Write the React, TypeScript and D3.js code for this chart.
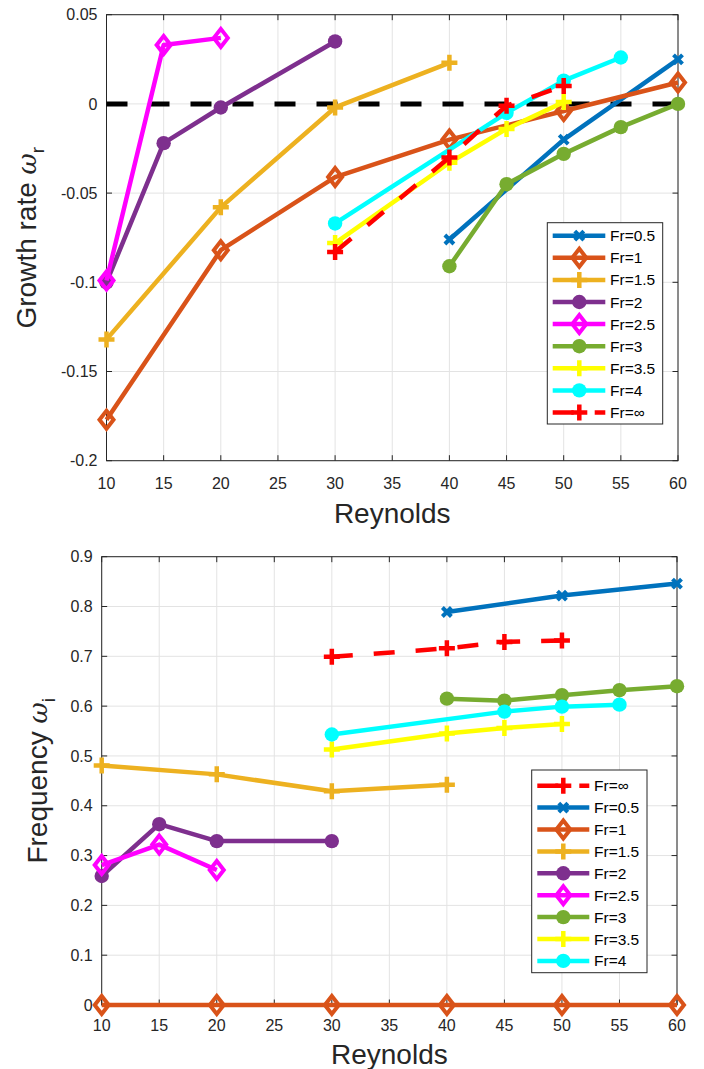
import * as d3 from 'd3';

// Reynolds numbers per series (same in both panels)
const reFr05 = [40, 50, 60];
const reFr1 = [10, 20, 30, 40, 50, 60];
const reFr15 = [10, 20, 30, 40];
const reFr2 = [10, 15, 20, 30];
const reFr25 = [10, 15, 20];
const reFr3 = [40, 45, 50, 55, 60];
const reFr35 = [30, 40, 45, 50];
const reFr4 = [30, 45, 50, 55];
const reFrInf = [30, 40, 45, 50];

// growth rate omega_r
const growthFr05 = [-0.076, -0.02, 0.025];
const growthFr1 = [-0.177, -0.082, -0.041, -0.02, -0.004, 0.012];
const growthFr15 = [-0.132, -0.058, -0.002, 0.023];
const growthFr2 = [-0.1, -0.022, -0.002, 0.035];
const growthFr25 = [-0.099, 0.033, 0.037];
const growthFr3 = [-0.091, -0.045, -0.028, -0.013, 0];
const growthFr35 = [-0.078, -0.033, -0.014, 0.001];
const growthFr4 = [-0.067, -0.005, 0.013, 0.026];
const growthFrInf = [-0.083, -0.03, -0.001, 0.01];

// frequency omega_i
const freqFr05 = [0.789, 0.822, 0.846];
const freqFr1 = [0, 0, 0, 0, 0, 0];
const freqFr15 = [0.481, 0.463, 0.429, 0.442];
const freqFr2 = [0.259, 0.363, 0.329, 0.329];
const freqFr25 = [0.281, 0.322, 0.271];
const freqFr3 = [0.615, 0.611, 0.622, 0.632, 0.64];
const freqFr35 = [0.513, 0.545, 0.556, 0.564];
const freqFr4 = [0.543, 0.589, 0.599, 0.603];
const freqFrInf = [0.699, 0.716, 0.729, 0.732];

const xTicks = [10, 15, 20, 25, 30, 35, 40, 45, 50, 55, 60];
const growthTicks = [-0.2, -0.15, -0.1, -0.05, 0, 0.05];
const freqTicks = [0, 0.1, 0.2, 0.3, 0.4, 0.5, 0.6, 0.7, 0.8, 0.9];

const font = '"Liberation Sans", Arial, Helvetica, sans-serif';
const axisColor = '#262626';

type MarkerType = 'x' | 'diamond' | 'plus' | 'circle';
type Series = { name: string; color: string; marker: MarkerType; dashed?: boolean; re: number[]; vals: number[] };

const mk = (name, color, marker, re, vals, dashed = false): Series => ({ name, color, marker, re, vals, dashed });

const growthSeries: Series[] = [
  mk('Fr=0.5', '#0072BD', 'x', reFr05, growthFr05),
  mk('Fr=1', '#D95319', 'diamond', reFr1, growthFr1),
  mk('Fr=1.5', '#EDB120', 'plus', reFr15, growthFr15),
  mk('Fr=2', '#7E2F8E', 'circle', reFr2, growthFr2),
  mk('Fr=2.5', '#FF00FF', 'diamond', reFr25, growthFr25),
  mk('Fr=3', '#77AC30', 'circle', reFr3, growthFr3),
  mk('Fr=3.5', '#FFFF00', 'plus', reFr35, growthFr35),
  mk('Fr=4', '#00FFFF', 'circle', reFr4, growthFr4),
  mk('Fr=∞', '#FF0000', 'plus', reFrInf, growthFrInf, true),
];

const freqSeries: Series[] = [
  mk('Fr=∞', '#FF0000', 'plus', reFrInf, freqFrInf, true),
  mk('Fr=0.5', '#0072BD', 'x', reFr05, freqFr05),
  mk('Fr=1', '#D95319', 'diamond', reFr1, freqFr1),
  mk('Fr=1.5', '#EDB120', 'plus', reFr15, freqFr15),
  mk('Fr=2', '#7E2F8E', 'circle', reFr2, freqFr2),
  mk('Fr=2.5', '#FF00FF', 'diamond', reFr25, freqFr25),
  mk('Fr=3', '#77AC30', 'circle', reFr3, freqFr3),
  mk('Fr=3.5', '#FFFF00', 'plus', reFr35, freqFr35),
  mk('Fr=4', '#00FFFF', 'circle', reFr4, freqFr4),
];

const LW = 4.5;
const DASH = '21 21';

function Marker({ type, x, y, color }) {
  const t = `translate(${x},${y})`;
  if (type === 'circle') return <circle cx={x} cy={y} r={7.2} fill={color} />;
  if (type === 'diamond')
    return <path transform={t} d="M0,-9L7,0L0,9L-7,0Z" fill="none" stroke={color} strokeWidth={4} strokeLinejoin="miter" />;
  if (type === 'plus') return <path transform={t} d="M-8,0H8M0,-8V8" stroke={color} strokeWidth={4.5} />;
  return <path transform={t} d="M-4.5,-4.5L4.5,4.5M-4.5,4.5L4.5,-4.5" stroke={color} strokeWidth={4} />;
}

function Panel({ series, xRange, yDomain, yRange, yTicks, zeroLine, yLabel, yLabelSub, yLabelX, tickBase, xLabelBase, legend }) {
  const x = d3.scaleLinear().domain([10, 60]).range(xRange);
  const y = d3.scaleLinear().domain(yDomain).range(yRange);
  const [x0, x1] = xRange;
  const [yb, yt] = yRange;
  const tl = 5.5;
  const line = d3.line<[number, number]>().x(d => x(d[0])).y(d => y(d[1]));

  return (
    <g>
      {/* grid */}
      {xTicks.map(t => <line key={'gx' + t} x1={x(t)} x2={x(t)} y1={yt} y2={yb} stroke="#e3e3e3" strokeWidth={1} />)}
      {yTicks.map(t => <line key={'gy' + t} x1={x0} x2={x1} y1={y(t)} y2={y(t)} stroke="#e3e3e3" strokeWidth={1} />)}
      {/* ticks */}
      {xTicks.map(t => (
        <g key={'tx' + t} stroke={axisColor} strokeWidth={1}>
          <line x1={x(t)} x2={x(t)} y1={yb} y2={yb - tl} />
          <line x1={x(t)} x2={x(t)} y1={yt} y2={yt + tl} />
        </g>
      ))}
      {yTicks.map(t => (
        <g key={'ty' + t} stroke={axisColor} strokeWidth={1}>
          <line x1={x0} x2={x0 + tl} y1={y(t)} y2={y(t)} />
          <line x1={x1} x2={x1 - tl} y1={y(t)} y2={y(t)} />
        </g>
      ))}
      <rect x={x0} y={yt} width={x1 - x0} height={yb - yt} fill="none" stroke={axisColor} strokeWidth={1} />
      {/* tick labels */}
      {xTicks.map(t => (
        <text key={'lx' + t} x={x(t)} y={tickBase} textAnchor="middle" fontSize={16} fill={axisColor} fontFamily={font}>{t}</text>
      ))}
      {yTicks.map(t => (
        <text key={'ly' + t} x={x0 - 9} y={y(t)} dy="0.35em" textAnchor="end" fontSize={16} fill={axisColor} fontFamily={font}>{String(t)}</text>
      ))}
      {/* axis labels */}
      <text x={(x0 + x1) / 2} y={xLabelBase} textAnchor="middle" fontSize={28} fill={axisColor} fontFamily={font}>Reynolds</text>
      <text transform={`translate(${yLabelX},${(yt + yb) / 2}) rotate(-90)`} textAnchor="middle" fontSize={28} fill={axisColor} fontFamily={font}>
        {yLabel} <tspan fontStyle="italic" fontFamily='"DejaVu Serif", serif' fontSize={26}>ω</tspan>
        <tspan fontSize={19} dy={8}>{yLabelSub}</tspan>
      </text>
      {zeroLine && (
        <line x1={x(10)} x2={x(60)} y1={y(0)} y2={y(0)} stroke="#000" strokeWidth={5} strokeDasharray={DASH} />
      )}
      {/* series */}
      {series.map(s => {
        const pts = s.re.map((r, i) => [r, s.vals[i]] as [number, number]);
        return (
          <g key={s.name}>
            <path d={line(pts)} fill="none" stroke={s.color} strokeWidth={LW} strokeLinejoin="round"
              strokeDasharray={s.dashed ? DASH : undefined} />
            {pts.map((p, i) => <Marker key={i} type={s.marker} x={x(p[0])} y={y(p[1])} color={s.color} />)}
          </g>
        );
      })}
      {/* legend */}
      <rect x={legend.x0} y={legend.y0} width={legend.x1 - legend.x0} height={legend.y1 - legend.y0} fill="#fff" stroke={axisColor} strokeWidth={1} />
      {series.map((s, i) => {
        const ry = legend.row0 + i * legend.step;
        return (
          <g key={'lg' + s.name}>
            <line x1={legend.l0} x2={legend.l1} y1={ry} y2={ry} stroke={s.color} strokeWidth={LW}
              strokeDasharray={s.dashed ? DASH : undefined} />
            <Marker type={s.marker} x={legend.m} y={ry} color={s.color} />
            <text x={legend.t} y={ry} dy="0.36em" fontSize={15.5} fill="#000" fontFamily={font}>{s.name}</text>
          </g>
        );
      })}
    </g>
  );
}

export default function App() {
  return (
    <svg width={704} height={1069} style={{ position: 'absolute', left: 0, top: 0, background: '#fff' }}>
      <Panel
        series={growthSeries}
        xRange={[106.5, 678]}
        yDomain={[-0.2, 0.05]}
        yRange={[460.7, 14.7]}
        yTicks={growthTicks}
        zeroLine
        yLabel="Growth rate"
        yLabelSub="r"
        yLabelX={36}
        tickBase={489}
        xLabelBase={523}
        legend={{ x0: 547.3, x1: 662.7, y0: 222.7, y1: 424, row0: 235.7, step: 22.1, l0: 552.7, l1: 605.3, m: 579.3, t: 610 }}
      />
      <Panel
        series={freqSeries}
        xRange={[101.7, 677]}
        yDomain={[0, 0.9]}
        yRange={[1005, 556.7]}
        yTicks={freqTicks}
        zeroLine={false}
        yLabel="Frequency"
        yLabelSub="i"
        yLabelX={46.5}
        tickBase={1030.5}
        xLabelBase={1063.5}
        legend={{ x0: 531.7, x1: 647, y0: 770, y1: 972.7, row0: 785.7, step: 21.9, l0: 537.3, l1: 589.3, m: 563.3, t: 594 }}
      />
    </svg>
  );
}
